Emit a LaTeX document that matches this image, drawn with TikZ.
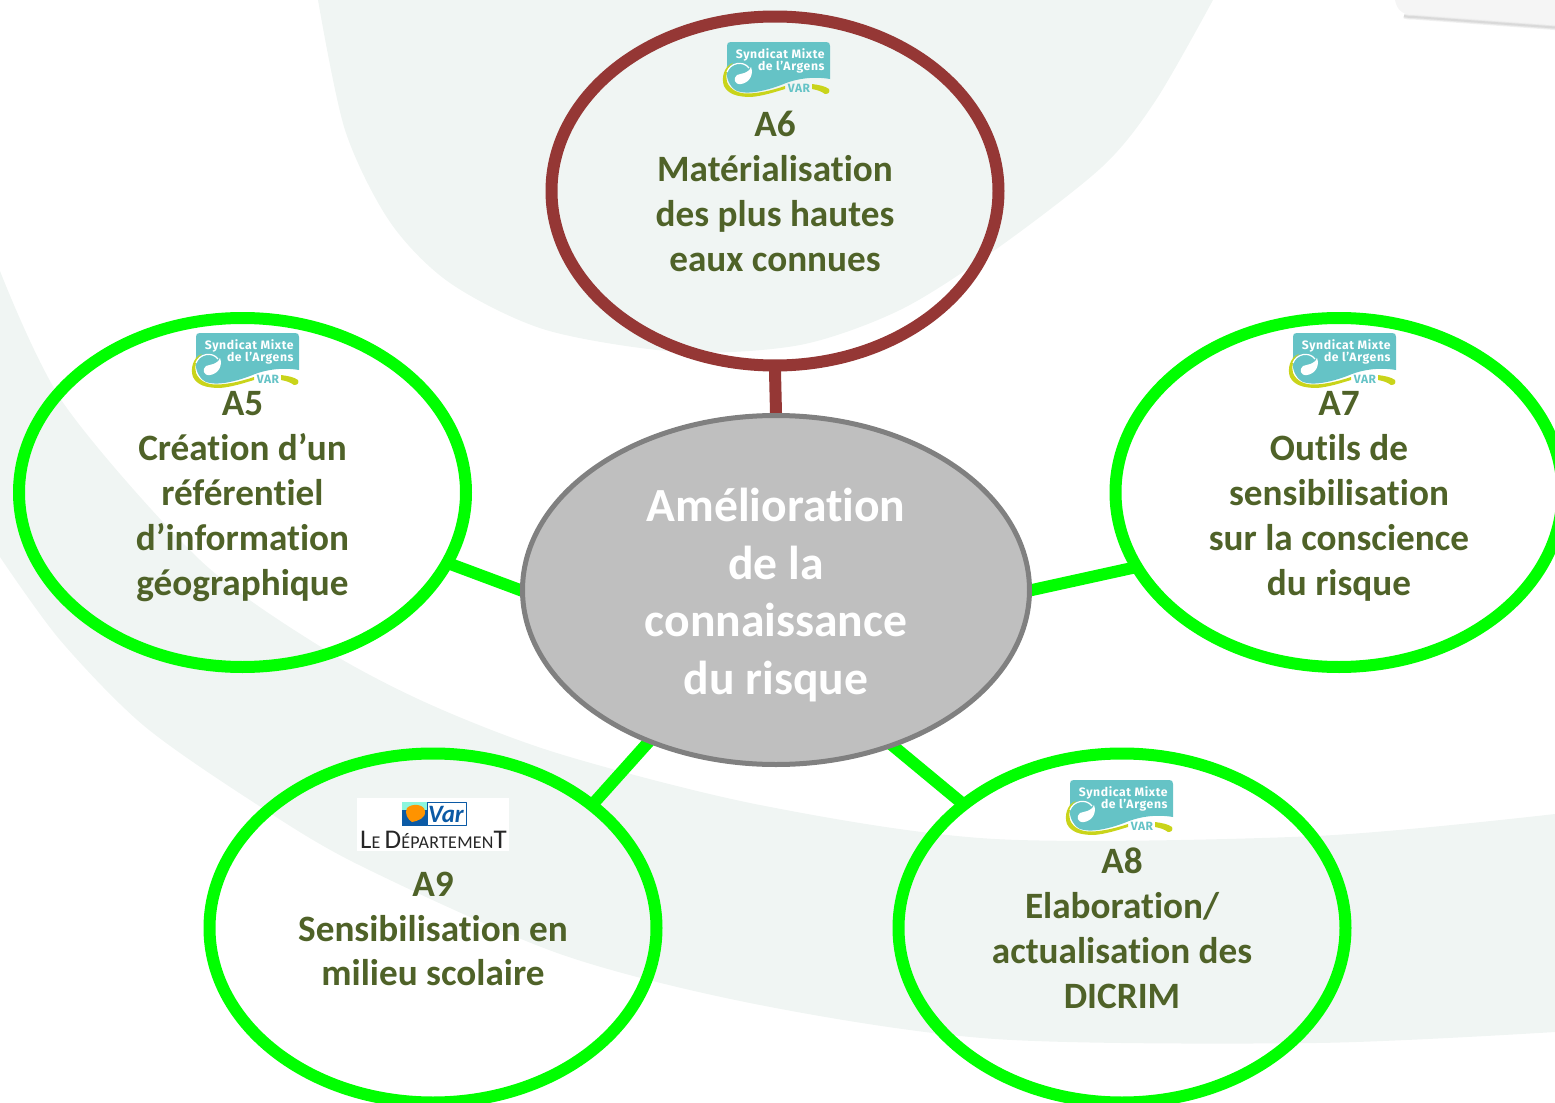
\documentclass[tikz,border=0pt]{standalone}
\usepackage{fontspec}
\setmainfont{Carlito}[Ligatures=NoCommon]
\newfontfamily\logofont{Fira Sans}[LetterSpace=5]
\newfontfamily\deptfont{Carlito}[Ligatures=NoCommon,LetterSpace=1.5]
\usetikzlibrary{shapes.geometric,backgrounds}
\definecolor{olivetxt}{HTML}{4F6228}
\definecolor{brownring}{HTML}{953735}
\definecolor{greenring}{HTML}{00FF00}
\definecolor{paleback}{HTML}{F0F5F3}
\definecolor{logoteal}{HTML}{65C3C6}
\definecolor{logoyellow}{HTML}{C9D41A}
\definecolor{varblue}{HTML}{0B5AA5}
\newcommand{\deptcap}[1]{{\fontsize{13.5}{13}\selectfont #1}}
\newcommand{\acttop}{\rule{0pt}{19pt}}
\newcommand{\centop}{\rule{0pt}{24.5pt}}
\tikzset{
	actionnode/.style={ellipse, draw=greenring, line width=6pt, minimum width=223.5pt, minimum height=174.5pt, inner sep=0pt, align=center, text=olivetxt, font=\fontsize{18.6}{22.4}\selectfont\bfseries, execute at end node=\rule[-6pt]{0pt}{6pt}},
	centernode/.style={ellipse, draw=black!50, fill=black!25, line width=2.5pt, minimum width=253.5pt, minimum height=174.5pt, inner sep=0pt, align=center, text=white, font=\fontsize{23.8}{28.9}\selectfont\bfseries, execute at end node=\rule[-6.5pt]{0pt}{6.5pt}},
	linkline/.style={draw=greenring, line width=6pt, shorten <=-2pt, shorten >=-2pt, preaction={draw=black, draw opacity=0.3, transform canvas={yshift=-1.5pt}}},
	smalogo/.pic={
		\fill[logoteal] (0,4) .. controls (0,1) and (1,0) .. (4,0) -- (99,0) .. controls (102,0) and (103,1) .. (103,4) -- (103,37) .. controls (85,34) and (70,37) .. (59,41) .. controls (40,49) and (20,53) .. (10,49) .. controls (2,45) and (-2,34) .. (0,24) -- cycle;
		\fill[logoyellow] (6,21) .. controls (-3,24) and (-6,36) .. (-3,44) .. controls (1,52) and (10,55) .. (24,55) .. controls (36,54) and (48,50) .. (58,47) -- (58,44) .. controls (46,48) and (34,51) .. (22,51.5) .. controls (10,52) and (3,47) .. (0,40) .. controls (-2,33) and (0,25) .. (6,21) -- cycle;
		\fill[logoyellow] (85,42) .. controls (92,43) and (98,44) .. (102,47) .. controls (103,50) and (102,52) .. (98,52) .. controls (94,49) and (90,48) .. (85,47) -- cycle;
		\draw[white, line width=0.6pt] (0,30) .. controls (3,21) and (16,18) .. (22,26);
		\fill[white] (24,25) .. controls (27,33) and (22,41) .. (14,42) .. controls (7,43) and (6,36) .. (10,33) .. controls (15,31) and (21,32) .. (24,25) -- cycle;
		\node[anchor=east, white, inner sep=0pt, font=\logofont\bfseries\fontsize{6.1}{6}\selectfont] (-lineone) at (98,12.5) {Syndicat Mixte};
		\node[anchor=east, white, inner sep=0pt, font=\logofont\bfseries\fontsize{6.1}{6}\selectfont] (-linetwo) at (98,25.5) {de l’Argens};
		\node[logoteal, inner sep=0pt, font=\logofont\bfseries\fontsize{6}{6}\selectfont] (-var) at (72,46) {VAR};
	}
}
\begin{document}
\begin{tikzpicture}[x=0.5pt, y=-0.5pt, line join=round]
	\useasboundingbox (0,0) rectangle (1555,1103);
	% text nodes
	\node[actionnode, draw=brownring] (a6) at (775,191) {\acttop A6\\Matérialisation\\des plus hautes\\eaux connues};
	\node[actionnode] (a5) at (242.5,492.5) {\acttop A5\\Création d’un\\référentiel\\d’information\\géographique};
	\node[actionnode] (a7) at (1339,492.5) {\acttop A7\\Outils de\\sensibilisation\\sur la conscience\\du risque};
	\node[actionnode] (a9) at (433,928) {\acttop A9\\Sensibilisation en\\milieu scolaire};
	\node[actionnode] (a8) at (1122,928) {\acttop A8\\Elaboration/\\actualisation des\\DICRIM};
	\node[centernode] (center) at (776,590) {\centop Amélioration\\de la\\connaissance\\du risque};
	% logos
	\foreach \nm/\px/\py in {six/727/42, five/196/333, seven/1293/333, eight/1070/780}
		\pic (logo\nm) at (\px,\py) {smalogo};
	\fill[white] (357,798) rectangle (509,851);
	\fill[varblue] (402,802) rectangle (427,826);
	\fill[black!30!green!30!cyan!45] (402,802) rectangle (427,810);
	\fill[orange!85!yellow] (407,808) .. controls (412,803) and (424,804) .. (425,811) .. controls (426,818) and (418,821) .. (412,822) .. controls (408,820) and (404,813) .. (407,808) -- cycle;
	\draw[varblue, line width=0.5pt] (427,802.5) rectangle (466,825.5);
	\node[varblue, inner sep=0pt, font=\bfseries\itshape\fontsize{12.5}{12}\selectfont] (vartxt) at (446,814) {Var};
	\node[black!85, inner sep=0pt, anchor=base, font=\deptfont\fontsize{9}{9}\selectfont] (dept) at (433.5,848) {\deptcap{L}E \deptcap{D}ÉPARTEMEN\deptcap{T}};
	% backdrop and links
	\begin{scope}[on background layer]
		\fill[paleback] plot[smooth] coordinates {(318,0) (345,130) (390,222) (450,283) (546,330) (680,352) (800,345) (900,310) (995,250) (1102,167) (1156,100) (1213,0)} -- cycle;
		\fill[paleback] plot[smooth] coordinates {(0,271) (64,404) (200,560) (321,647) (429,704) (560,754) (760,805) (995,839) (1316,836) (1555,814)} -- plot[smooth] coordinates {(1555,1032) (1316,1043) (995,1039) (760,1005) (560,954) (357,864) (250,800) (143,725) (60,640) (0,557)} -- cycle;
		\fill[black!4] (1395,0) .. controls (1397,10) and (1402,14) .. (1412,15) -- (1555,25) -- (1555,0) -- cycle;
		\foreach \lw/\sh in {2.6/5, 1.8/9, 1/15}
			\draw[black!\sh, line width=\lw pt] (1404,16) .. controls (1407,17) and (1410,17) .. (1414,17) -- (1555,27.5);
		\draw[linkline, draw=brownring] (a6.-90) -- (center.90);
		\draw[linkline] (a5.-19) -- (center.180);
		\draw[linkline] (a7.200) -- (center.0);
		\draw[linkline] (a9.38.5) -- (center.230);
		\draw[linkline] (a8.142) -- (center.-53);
	\end{scope}
\end{tikzpicture}
\end{document}
